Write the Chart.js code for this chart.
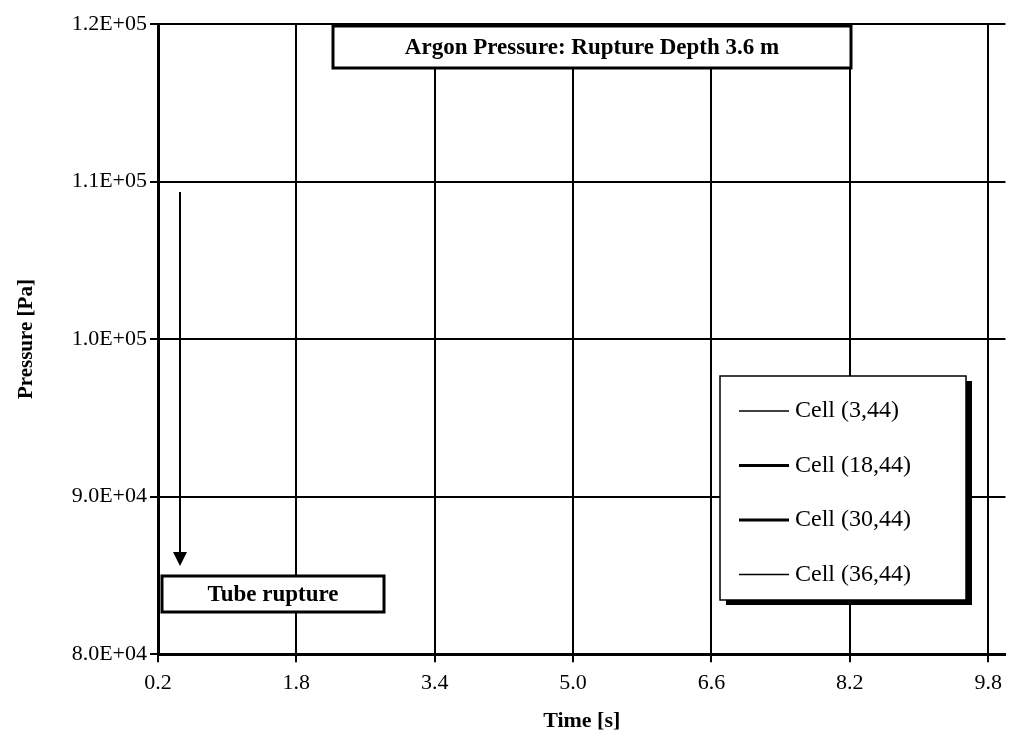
<!DOCTYPE html>
<html>
<head>
<meta charset="utf-8">
<script src="https://cdn.jsdelivr.net/npm/chart.js@4"></script>
<style>
  html, body { margin: 0; padding: 0; background: #fff; }
  #wrap { width: 1010px; height: 753px; }
</style>
</head>
<body>
<div id="wrap"><canvas id="c" width="1010" height="753"></canvas></div>
<script>
// x ticks (time, s) and y ticks (pressure, Pa)
const xTicks = [0.2, 1.8, 3.4, 5.0, 6.6, 8.2, 9.8];
const yTicks = [80000, 90000, 100000, 110000, 120000];
const seriesNames = ['Cell (3,44)', 'Cell (18,44)', 'Cell (30,44)', 'Cell (36,44)'];
// traces are not legible in the scan, so the series carry no points
const cell3 = [];
const cell18 = [];
const cell30 = [];
const cell36 = [];

const FONT = '"Liberation Serif", "DejaVu Serif", serif';

const boxes = {
  id: 'boxes',
  afterDraw(chart) {
    const ctx = chart.ctx;
    ctx.save();
    // title box
    ctx.fillStyle = '#fff';
    ctx.fillRect(333, 26, 518, 42);
    ctx.lineWidth = 3;
    ctx.strokeStyle = '#000';
    ctx.strokeRect(333, 26, 518, 42);
    ctx.fillStyle = '#000';
    ctx.font = 'bold 23px ' + FONT;
    ctx.textAlign = 'center';
    ctx.textBaseline = 'middle';
    ctx.fillText('Argon Pressure: Rupture Depth 3.6 m', 592, 48);

    // tube rupture box
    ctx.fillStyle = '#fff';
    ctx.fillRect(162, 576, 222, 36);
    ctx.strokeRect(162, 576, 222, 36);
    ctx.fillStyle = '#000';
    ctx.fillText('Tube rupture', 273, 595);

    // arrow
    ctx.lineWidth = 2;
    ctx.beginPath();
    ctx.moveTo(180, 192);
    ctx.lineTo(180, 555);
    ctx.stroke();
    ctx.beginPath();
    ctx.moveTo(173, 552);
    ctx.lineTo(187, 552);
    ctx.lineTo(180, 566);
    ctx.closePath();
    ctx.fill();

    // legend box with shadow
    ctx.fillStyle = '#000';
    ctx.fillRect(726, 381, 246, 224);
    ctx.fillStyle = '#fff';
    ctx.fillRect(720, 376, 246, 224);
    ctx.lineWidth = 1.5;
    ctx.strokeRect(720, 376, 246, 224);
    ctx.font = '24px ' + FONT;
    ctx.textAlign = 'left';
    const widths = [1.5, 3, 3, 1.5];
    seriesNames.forEach((n, i) => {
      const y = 411 + i * 54.5;
      ctx.lineWidth = widths[i];
      ctx.beginPath();
      ctx.moveTo(739, y);
      ctx.lineTo(789, y);
      ctx.stroke();
      ctx.fillStyle = '#000';
      ctx.fillText(n, 795, y);
    });
    ctx.restore();
  }
};

new Chart(document.getElementById('c'), {
  type: 'line',
  data: {
    datasets: [
      { label: seriesNames[0], data: cell3, borderColor: '#000', borderWidth: 1 },
      { label: seriesNames[1], data: cell18, borderColor: '#000', borderWidth: 2 },
      { label: seriesNames[2], data: cell30, borderColor: '#000', borderWidth: 2 },
      { label: seriesNames[3], data: cell36, borderColor: '#000', borderWidth: 1 }
    ]
  },
  options: {
    responsive: false,
    animation: false,
    layout: { padding: { left: 10, right: 4, top: 24, bottom: 14 } },
    plugins: { legend: { display: false }, tooltip: { enabled: false } },
    elements: { point: { radius: 0 } },
    scales: {
      x: {
        type: 'linear', min: 0.2, max: 10.0,
        afterBuildTicks: s => { s.ticks = xTicks.map(v => ({ value: v })); },
        grid: { color: '#000', lineWidth: 2, tickLength: 8 },
        border: { color: '#000', width: 3 },
        ticks: { color: '#000', font: { family: FONT, size: 22 }, padding: 8, callback: v => v.toFixed(1), maxRotation: 0 },
        title: { display: true, text: 'Time [s]', color: '#000', font: { family: FONT, size: 22, weight: 'bold' } }
      },
      y: {
        min: 80000, max: 120000,
        afterBuildTicks: s => { s.ticks = yTicks.map(v => ({ value: v })); },
        grid: { color: '#000', lineWidth: 2, tickLength: 8 },
        border: { color: '#000', width: 3 },
        afterFit: s => { s.width = 148; },
        ticks: { color: '#000', font: { family: FONT, size: 22 },
          callback: v => { const e = Math.floor(Math.log10(v)); return (v / Math.pow(10, e)).toFixed(1) + 'E+' + String(e).padStart(2, '0'); } },
        title: { display: true, text: 'Pressure [Pa]', color: '#000', font: { family: FONT, size: 21, weight: 'bold' } }
      }
    }
  },
  plugins: [boxes]
});
</script>
</body>
</html>
